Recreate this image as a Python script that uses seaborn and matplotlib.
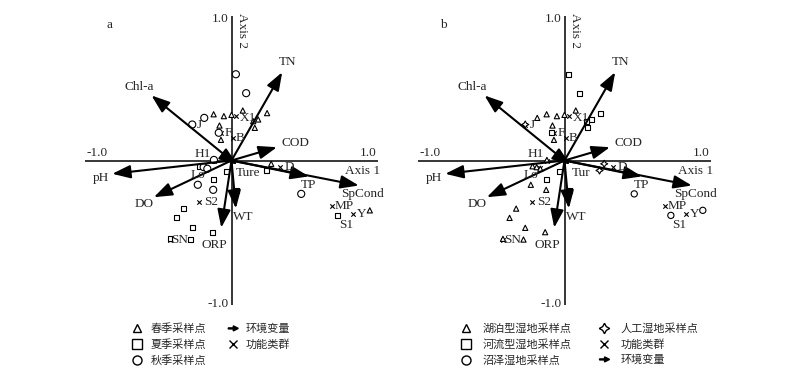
import numpy as np
import pandas as pd
import seaborn as sns
import matplotlib.pyplot as plt
import matplotlib.patches as mpatches
from matplotlib.lines import Line2D
from matplotlib.legend_handler import HandlerPatch

# environment variables (RDA biplot scores)
env_names = ["TN", "Chl-a", "COD", "pH", "DO", "ORP", "WT", "TP", "SpCond", "Ture"]
env_x = [0.346, -0.546, 0.31, -0.814, -0.53, -0.07, 0.03, 0.528, 0.869, 0.04]
env_y = [0.611, 0.45, 0.092, -0.092, -0.254, -0.465, -0.332, -0.11, -0.173, -0.03]

# functional groups
grp_names = ["X1", "B", "F", "J", "H1", "Lo", "S2", "SN", "D", "MP", "Y", "S1"]
grp_x = [0.034, 0.012, -0.07, -0.27, -0.12, -0.17, -0.225, -0.42, 0.328, 0.687, 0.83, 0.726]
grp_y = [0.307, 0.157, 0.19, 0.245, 0.0, -0.05, -0.29, -0.55, -0.042, -0.318, -0.367, -0.38]

# sampling sites
site_x = [0.030, 0.100, 0.243, 0.182, 0.077, 0.000, -0.052, -0.122, -0.186, -0.268,
          -0.082, -0.087, -0.072, 0.148, 0.159, -0.12, -0.218, -0.19, -0.165, -0.036,
          -0.125, -0.23, -0.125, 0.032, -0.33, -0.375, -0.268, -0.132, -0.42, -0.28,
          0.271, 0.239, 0.476, 0.726, 0.944]
site_y = [0.597, 0.466, 0.328, 0.284, 0.346, 0.316, 0.307, 0.320, 0.295, 0.249,
          0.242, 0.192, 0.143, 0.272, 0.226, 0.004, -0.04, -0.046, -0.057, -0.074,
          -0.13, -0.168, -0.203, -0.208, -0.333, -0.397, -0.466, -0.496, -0.542, -0.547,
          -0.023, -0.069, -0.231, -0.38, -0.345]
site_season = ["秋", "秋", "春", "春", "春", "春", "春", "春", "秋", "秋",
               "春", "秋", "春", "春", "春", "秋", "夏", "秋", "秋", "夏",
               "夏", "秋", "秋", "夏", "夏", "夏", "夏", "夏", "夏", "夏",
               "春", "夏", "秋", "夏", "春"]
site_type = ["河流", "河流", "河流", "河流", "湖泊", "湖泊", "湖泊", "湖泊", "湖泊", "人工",
             "湖泊", "河流", "湖泊", "河流", "河流", "湖泊", "湖泊", "湖泊", "湖泊", "河流",
             "河流", "湖泊", "湖泊", "河流", "湖泊", "湖泊", "湖泊", "湖泊", "湖泊", "湖泊",
             "人工", "人工", "沼泽", "沼泽", "沼泽"]

sites = pd.DataFrame({"x": site_x, "y": site_y, "season": site_season, "type": site_type})

# label offsets (points)
env_off = {"TN": (4, 7), "Chl-a": (-9, 6), "COD": (13, 3), "pH": (-8, -3), "DO": (-7, -5),
           "ORP": (-5, -12.5), "WT": (5, -6), "TP": (0, -6), "SpCond": (3, -6), "Ture": (8, -6)}
grp_off = {"X1": (8.5, -1.5), "B": (5, 0), "F": (5, 0), "J": (5, 0), "H1": (-8, 5),
           "Lo": (-6, -5), "S2": (9, 0), "SN": (7, 0), "D": (7, 0), "MP": (9, 0.5),
           "Y": (6.5, 0), "S1": (6, -7)}

sns.set_style("white")
plt.rcParams["font.family"] = ["Liberation Serif", "Noto Sans CJK SC"]

fig = plt.figure(figsize=(8, 3.76), dpi=100)
ax_a = fig.add_axes([85 / 800, 71 / 376, 293 / 800, 289 / 376])
ax_b = fig.add_axes([418 / 800, 71 / 376, 293 / 800, 289 / 376])

FS = 9.5


def draw_base(ax, letter, tur_name):
    ax.set_xlim(-1, 1)
    ax.set_ylim(-1, 1)
    ax.axis("off")
    ax.plot([-1, 1], [0, 0], color="black", lw=1.1, zorder=1)
    ax.plot([0, 0], [-1, 1], color="black", lw=1.1, zorder=1)
    ax.text(-0.02, 0.98, "1.0", ha="right", va="center", fontsize=FS)
    ax.text(-0.02, -0.99, "-1.0", ha="right", va="center", fontsize=FS)
    ax.text(-0.915, 0.055, "-1.0", ha="center", va="center", fontsize=FS)
    ax.text(0.93, 0.055, "1.0", ha="center", va="center", fontsize=FS)
    ax.text(0.894, -0.076, "Axis 1", ha="center", va="center", fontsize=FS)
    ax.text(0.075, 0.9, "Axis 2", ha="center", va="center", fontsize=FS, rotation=-90)
    ax.text(-0.83, 0.94, letter, ha="center", va="center", fontsize=FS)

    for name, x, y in zip(env_names, env_x, env_y):
        ax.annotate("", xy=(x, y), xytext=(0, 0),
                    arrowprops=dict(arrowstyle="-|>,head_length=1.1,head_width=0.4",
                                    color="black", lw=1.5, shrinkA=0, shrinkB=0), zorder=4)
        label = tur_name if name == "Ture" else name
        ax.annotate(label, xy=(x, y), xytext=env_off[name], textcoords="offset points",
                    ha="center", va="center", fontsize=FS, zorder=5)

    # crosses sit beneath the site symbols, as in the original
    sns.scatterplot(x=grp_x, y=grp_y, marker="x", s=10, color="black", linewidth=0.8,
                    legend=False, ax=ax, zorder=2)
    for name, x, y in zip(grp_names, grp_x, grp_y):
        ax.annotate(name, xy=(x, y), xytext=grp_off[name], textcoords="offset points",
                    ha="center", va="center", fontsize=FS, zorder=5)


# panel a: seasons
draw_base(ax_a, "a", "Ture")
season_markers = {"春": "^", "夏": "s", "秋": "o"}
season_sizes = {"春": 14, "夏": 12, "秋": 26}
sns.scatterplot(data=sites, x="x", y="y", style="season", size="season",
                markers=season_markers, sizes=season_sizes, color="white",
                edgecolor="black", linewidth=0.8, legend=False, ax=ax_a, zorder=3)

# panel b: wetland types
draw_base(ax_b, "b", "Tur")
type_markers = {"湖泊": "^", "河流": "s", "沼泽": "o", "人工": (4, 1, 0)}
type_sizes = {"湖泊": 14, "河流": 12, "沼泽": 20, "人工": 26}
sns.scatterplot(data=sites, x="x", y="y", style="type", size="type",
                markers=type_markers, sizes=type_sizes, color="white",
                edgecolor="black", linewidth=0.8, legend=False, ax=ax_b, zorder=3)
for ax in (ax_a, ax_b):
    ax.set_xlabel("")
    ax.set_ylabel("")


def make_arrow(legend, orig_handle, xdescent, ydescent, width, height, fontsize):
    return mpatches.FancyArrow(0.1 * width, 0.5 * height, 0.9 * width, 0,
                               length_includes_head=True, width=0.13 * height,
                               head_width=0.65 * height, head_length=0.45 * width,
                               color="black")


def mk(marker, ms):
    return Line2D([], [], ls="none", marker=marker, markersize=ms, markerfacecolor="white",
                  markeredgecolor="black", markeredgewidth=1.0)


arrow_h = mpatches.FancyArrow(0, 0, 1, 0, color="black")
cross_h = Line2D([], [], ls="none", marker="x", markersize=6, color="black", markeredgewidth=1.0)
leg_font = {"family": "Noto Sans CJK SC", "size": 8}
arrow_map = {mpatches.FancyArrow: HandlerPatch(patch_func=make_arrow)}

fig.legend([mk("^", 6), mk("s", 6.5), mk("o", 6.5), arrow_h, cross_h],
           ["春季采样点", "夏季采样点", "秋季采样点", "环境变量", "功能类群"],
           ncol=2, loc="upper left", bbox_to_anchor=(126 / 800, 1 - 318 / 376),
           frameon=False, prop=leg_font, handlelength=1.0, handletextpad=0.7,
           columnspacing=1.9, labelspacing=0.45, borderpad=0, handler_map=arrow_map)

fig.legend([mk("^", 6), mk("s", 6.5), mk("o", 6.5), mk((4, 1, 0), 7.5), cross_h, arrow_h],
           ["湖泊型湿地采样点", "河流型湿地采样点", "沼泽湿地采样点", "人工湿地采样点", "功能类群", "环境变量"],
           ncol=2, loc="upper left", bbox_to_anchor=(455 / 800, 1 - 318 / 376),
           frameon=False, prop=leg_font, handlelength=1.0, handletextpad=1.0,
           columnspacing=2.4, labelspacing=0.45, borderpad=0, handler_map=arrow_map)

fig.savefig("out.png", dpi=100)
